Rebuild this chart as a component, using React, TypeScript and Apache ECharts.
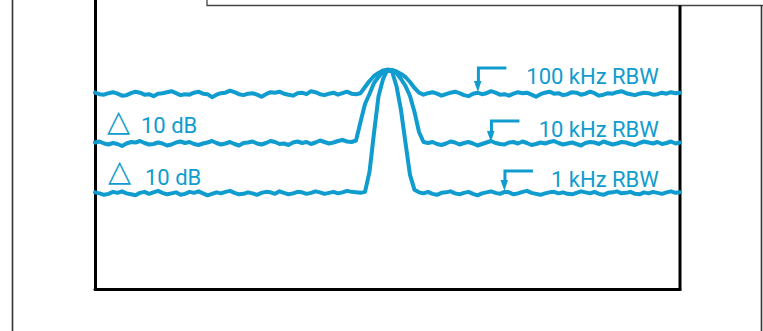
import React, { useEffect, useRef } from "react";
import * as echarts from "echarts";

// Trace amplitudes in dB (one sample per x step)
const trace100k: number[] = [
  -4.6, -4.9, -5.0, -4.7, -4.5, -4.8, -5.2, -5.1, -4.7, -4.4,
  -4.6, -5.0, -4.9, -5.3, -4.8, -4.7, -4.5, -4.3, -4.7, -5.1,
  -4.9, -5.0, -4.6, -4.4, -4.8, -4.9, -5.5, -5.0, -4.7, -4.6,
  -4.2, -4.5, -4.9, -5.1, -4.8, -4.7, -5.0, -5.4, -4.9, -4.5,
  -4.6, -4.4, -4.8, -5.0, -5.2, -4.7, -4.6, -4.9, -4.3, -4.5,
  -4.9, -5.1, -4.8, -4.6, -5.0, -4.7, -4.4, -4.8, -4.9,
  -4.7, -3.46, -2.26, -1.25, -0.65, -0.15, 0, -0.05, -0.35, -0.85, -1.45, -2.46, -3.66, -4.6,
  -5.0, -4.7, -4.5, -4.8, -5.2, -4.9, -4.6, -4.4, -4.7, -5.1,
  -5.3, -4.8, -4.6, -4.9, -4.7, -4.3, -4.6, -5.0, -4.9, -5.2,
  -4.8, -4.5, -4.7, -4.6, -5.0, -5.4, -4.9, -4.6, -4.4, -4.8,
  -4.7, -5.1, -4.9, -4.5, -4.6, -5.0, -4.8, -4.4, -4.7, -5.2,
  -5.0, -4.7, -4.8, -4.5, -4.3, -4.7, -4.9, -5.1, -4.8, -4.6,
  -4.7, -5.0, -4.9, -4.6, -4.8, -4.5, -4.7, -4.6,
];

const trace10k: number[] = [
  -14.6, -14.4, -14.8, -15.0, -14.7, -14.9, -15.3, -14.8, -14.5, -14.6,
  -14.3, -14.7, -15.0, -14.9, -14.6, -14.8, -15.2, -15.0, -14.6, -14.4,
  -14.7, -14.5, -14.9, -15.1, -14.8, -14.6, -14.3, -14.7, -15.0, -14.8,
  -14.5, -14.9, -15.2, -14.7, -14.6, -14.4, -14.8, -15.0, -14.7, -14.3,
  -14.5, -14.9, -14.8, -15.1, -14.6, -14.4, -14.7, -14.5, -14.9, -14.6,
  -14.2, -14.5, -14.8, -14.6, -14.3, -14.1, -14.4, -14.5,
  -14.2, -10.5, -6.87, -4.87, -2.66, -1.46, -0.45, 0, -0.25, -0.65, -1.86, -3.26, -5.27, -8.48, -12.49, -14.5,
  -14.7, -14.5, -14.9, -15.1, -14.8, -14.4, -14.6, -15.0, -14.7, -14.5,
  -14.8, -15.2, -14.9, -14.6, -14.3, -14.7, -14.9, -15.0, -14.6, -14.5,
  -14.8, -14.4, -14.7, -15.1, -14.9, -14.6, -14.8, -14.5, -14.3, -14.7,
  -15.0, -14.8, -14.6, -14.9, -15.2, -14.7, -14.5, -14.6, -14.9, -14.4,
  -14.7, -15.0, -14.8, -14.5, -14.6, -14.9, -15.1, -14.7, -14.4, -14.6,
  -14.8, -14.5, -14.9, -14.7, -14.4, -14.8, -14.6,
];

const trace1k: number[] = [
  -24.6, -24.8, -25.1, -24.9, -24.5, -24.7, -24.4, -24.8, -25.0, -25.2,
  -24.7, -24.5, -24.9, -24.6, -24.3, -24.7, -25.0, -24.8, -24.6, -25.1,
  -24.9, -24.5, -24.7, -24.4, -24.8, -25.2, -24.9, -24.6, -24.8, -24.5,
  -24.3, -24.7, -25.0, -24.9, -24.6, -24.8, -25.1, -24.7, -24.5, -24.6,
  -24.9, -24.4, -24.7, -25.0, -24.8, -24.5, -24.6, -24.9, -24.7, -24.4,
  -24.6, -24.9, -24.7, -24.5, -24.8, -24.6, -24.3, -24.5, -24.6, -24.7,
  -24.5, -20.5, -12.7, -5.3, -1.9, 0, -0.3, -3.3, -8.1, -14.7, -21.1, -24.1,
  -24.6, -24.8, -24.5, -24.9, -25.1, -24.7, -24.6, -24.4, -24.8, -25.0,
  -24.7, -24.5, -24.9, -25.2, -24.8, -24.6, -24.4, -24.7, -24.9, -24.5,
  -24.6, -25.0, -24.8, -24.5, -24.3, -24.7, -24.9, -25.1, -24.8, -24.6,
  -24.5, -24.8, -24.6, -24.9, -25.0, -24.7, -24.4, -24.6, -24.8, -24.5,
  -24.9, -25.1, -24.7, -24.6, -24.4, -24.8, -24.7, -24.5, -24.9, -25.0,
  -24.6, -24.8, -24.5, -24.7, -24.9, -24.6, -24.4, -24.7, -24.6,
];

// Markers (x step, bar level dB, arrow tip dB) and their labels
const markerLabels: string[] = ["100 kHz RBW", "10 kHz RBW", "1 kHz RBW"];
const markerX: number[] = [85.2, 88.1, 91.1];
const markerTop: number[] = [0.35, -10.29, -20.32];
const markerTip: number[] = [-4.47, -14.5, -24.33];
const labelRightX = 125.3;
const labelY: number[] = [-1.35, -11.99, -22.03];

const deltaLabels: string[] = ["10 dB", "10 dB"];

const X_MIN = 0;
const X_MAX = 130;
const Y_MIN = -44;
const Y_MAX = 14;

const BLUE = "#109cce";
const FONT = "Roboto";

export default function App() {
  const ref = useRef<HTMLDivElement>(null);

  useEffect(() => {
    if (!ref.current) return;
    const chart = echarts.init(ref.current, null, { renderer: "svg" });

    const toPairs = (ys: number[]) => ys.map((y, i) => [i, y]);

    const lineSeries = (name: string, ys: number[]) => ({
      name,
      type: "line",
      data: toPairs(ys),
      showSymbol: false,
      smooth: false,
      silent: true,
      lineStyle: { color: BLUE, width: 4, cap: "round", join: "round" },
      itemStyle: { color: BLUE },
      z: 3,
    });

    const option: any = {
      animation: false,
      backgroundColor: "#ffffff",
      grid: { left: 95, right: 83, top: 0, bottom: 42, containLabel: false },
      xAxis: {
        type: "value",
        min: X_MIN,
        max: X_MAX,
        axisLine: { show: true, onZero: false, lineStyle: { color: "#000", width: 3 } },
        axisTick: { show: false },
        axisLabel: { show: false },
        splitLine: { show: false },
      },
      yAxis: {
        type: "value",
        min: Y_MIN,
        max: Y_MAX,
        axisLine: { show: true, onZero: false, lineStyle: { color: "#000", width: 3 } },
        axisTick: { show: false },
        axisLabel: { show: false },
        splitLine: { show: false },
      },
      series: [
        lineSeries("100 kHz RBW", trace100k),
        lineSeries("10 kHz RBW", trace10k),
        lineSeries("1 kHz RBW", trace1k),
        {
          type: "custom",
          clip: false,
          silent: true,
          z: 4,
          data: markerX.map((x, i) => [x, markerTop[i], markerTip[i], labelRightX, labelY[i], i]),
          renderItem: (params: any, api: any) => {
            const x = api.value(0);
            const pTop = api.coord([x, api.value(1)]);
            const pTip = api.coord([x, api.value(2)]);
            const pLab = api.coord([api.value(3), api.value(4)]);
            const idx = api.value(5);
            return {
              type: "group",
              children: [
                {
                  type: "polyline",
                  shape: {
                    points: [
                      [pTop[0] + 28, pTop[1]],
                      [pTop[0], pTop[1]],
                      [pTop[0], pTip[1] - 7],
                    ],
                  },
                  style: { stroke: BLUE, lineWidth: 3, fill: "none" },
                },
                {
                  type: "polygon",
                  shape: {
                    points: [
                      [pTip[0] - 4.5, pTip[1] - 11],
                      [pTip[0] + 3, pTip[1] - 11],
                      [pTip[0] - 0.5, pTip[1]],
                    ],
                  },
                  style: { fill: BLUE },
                },
                {
                  type: "text",
                  x: pLab[0],
                  y: pLab[1],
                  style: {
                    text: markerLabels[idx],
                    fill: BLUE,
                    fontSize: 22,
                    fontFamily: FONT,
                    align: "right",
                    verticalAlign: "middle",
                  },
                },
              ],
            };
          },
        },
      ],
      graphic: [
        // outer frame lines
        { type: "line", shape: { x1: 12.5, y1: 0, x2: 12.5, y2: 331 }, style: { stroke: "#333", lineWidth: 1.6 } },
        {
          type: "polyline",
          shape: { points: [[207, 0], [207, 5.5], [763, 5.5]] },
          style: { stroke: "#444", lineWidth: 1.3, fill: "none" },
        },
        { type: "line", shape: { x1: 761.5, y1: 5.5, x2: 761.5, y2: 331 }, style: { stroke: "#333", lineWidth: 1.6 } },
        // inner box right edge
        { type: "line", shape: { x1: 680, y1: 5.5, x2: 680, y2: 290.5 }, style: { stroke: "#000", lineWidth: 3 } },
        // delta labels
        {
          type: "text",
          x: 118.5,
          y: 120,
          style: { text: "△", fill: BLUE, fontSize: 30, fontWeight: "bold", fontFamily: "DejaVu Sans", align: "center", verticalAlign: "middle" },
        },
        {
          type: "text",
          x: 141,
          y: 125,
          style: { text: deltaLabels[0], fill: BLUE, fontSize: 22, fontFamily: FONT, align: "left", verticalAlign: "middle" },
        },
        {
          type: "text",
          x: 119.5,
          y: 170,
          style: { text: "△", fill: BLUE, fontSize: 30, fontWeight: "bold", fontFamily: "DejaVu Sans", align: "center", verticalAlign: "middle" },
        },
        {
          type: "text",
          x: 145,
          y: 177,
          style: { text: deltaLabels[1], fill: BLUE, fontSize: 22, fontFamily: FONT, align: "left", verticalAlign: "middle" },
        },
      ],
    };

    chart.setOption(option);
    return () => chart.dispose();
  }, []);

  return (
    <div
      ref={ref}
      style={{ position: "fixed", left: 0, top: 0, width: 763, height: 331, background: "#fff" }}
    />
  );
}
